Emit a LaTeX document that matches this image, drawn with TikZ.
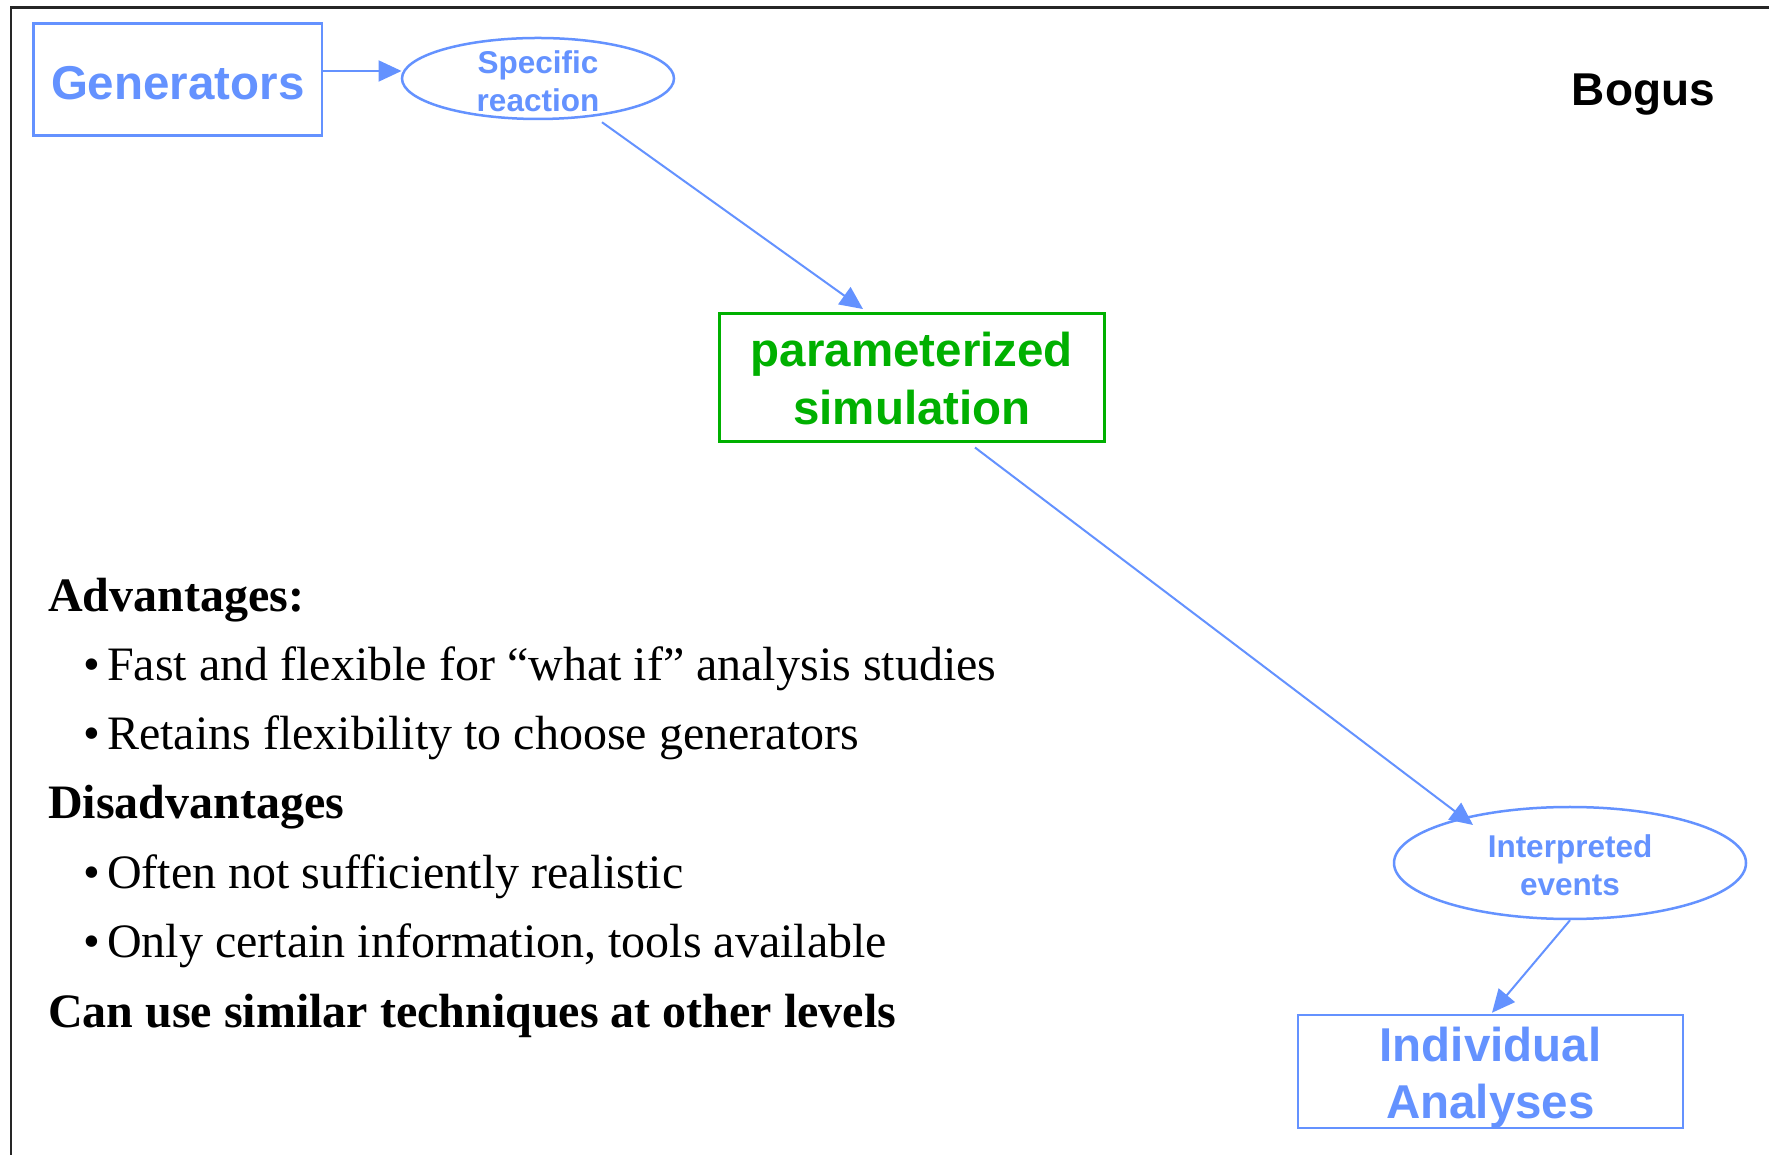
\documentclass[tikz,border=0pt]{standalone}
\usepackage{fontspec}
\setmainfont{Liberation Serif}
\setsansfont{Liberation Sans}
\usetikzlibrary{arrows.meta,shapes.geometric,calc}
\definecolor{flowblue}{RGB}{100,146,255}
\definecolor{simgreen}{RGB}{0,176,0}
\begin{document}
\begin{tikzpicture}[x=1pt,y=1pt,
  boxbig/.style={draw=flowblue, line width=2.5pt, inner sep=0pt},
  boxgreen/.style={draw=simgreen, line width=2.5pt, inner sep=0pt},
  bigtext/.style={text=flowblue, inner sep=0pt, align=center,
    font=\sffamily\bfseries\fontsize{47.5}{57.5}\selectfont},
  greentext/.style={text=simgreen, inner sep=0pt, align=center,
    font=\sffamily\bfseries\fontsize{47.5}{57.5}\selectfont},
  oval/.style={draw=flowblue, line width=2.5pt, ellipse, inner sep=0pt},
  ovaltext/.style={text=flowblue, inner sep=0pt, align=center,
    font=\sffamily\bfseries\fontsize{31.5}{37.5}\selectfont},
  conn/.style={draw=flowblue, line width=2pt, -{Triangle[length=23pt,width=21pt]}},
  headline/.style={anchor=base west, inner sep=0pt, font=\bfseries\fontsize{48}{57}\selectfont},
  itemline/.style={anchor=base west, inner sep=0pt, font=\fontsize{48}{57}\selectfont}]
\useasboundingbox (0,0) rectangle (1769,1154);
\fill[white] (0,0) rectangle (1769,1154);

% slide frame (only top and left edges fall inside the page)
\draw[line width=2.5pt, black!85] (11,-10) -- (11,1146.5) -- (1780,1146.5);

% flow nodes
\node[boxbig, minimum width=288.5pt, minimum height=112.4pt,
  label={[bigtext, yshift=-3.4pt]center:Generators}] (gen) at (177.75,1074.5) {};
\node[oval, minimum width=272pt, minimum height=81pt,
  label={[ovaltext, yshift=-2.8pt]center:Specific\\reaction}] (spec) at (538,1075.5) {};
\node[boxgreen, minimum width=385pt, minimum height=128pt,
  label={[greentext, yshift=-1.2pt]center:parameterized\\simulation}] (param) at (912,776.7) {};
\node[oval, minimum width=352pt, minimum height=112pt,
  label={[ovaltext, yshift=-2.3pt]center:Interpreted\\events}] (interp) at (1570,291) {};
\node[boxbig, minimum width=385pt, minimum height=113pt,
  label={[bigtext, yshift=-6pt]center:Individual\\Analyses}] (indiv) at (1490.5,82.5) {};
\node[anchor=base, inner sep=0pt, font=\sffamily\bfseries\fontsize{46}{55}\selectfont] (bogus) at (1643.4,1048) {Bogus};

% connectors
\draw[conn] ($(gen.east)+(0,8.5)$) -- ($(spec.west)+(0.8,7.5)$);
\draw[conn] ($(spec.south)+(64,-2)$) -- ($(param.north)+(-49,3)$);
\draw[conn] ($(param.south)+(63,-5)$) -- ($(interp.center)+(-97,38)$);
\draw[conn] (interp.south) -- ($(indiv.north)+(1.5,1)$);

% pros and cons
\node[headline] (adv) at (48,542) {Advantages:};
\node[itemline] (advA) at (83.5,473) {•\kern6.7pt Fast and flexible for “what if” analysis studies};
\node[itemline] (advB) at (83.5,404) {•\kern6.7pt Retains flexibility to choose generators};
\node[headline] (dis) at (48,335) {Disadvantages};
\node[itemline] (disA) at (83.5,265) {•\kern6.7pt Often not sufficiently realistic};
\node[itemline] (disB) at (83.5,196) {•\kern6.7pt Only certain information, tools available};
\node[headline] (other) at (48,127) {Can use similar techniques at other levels};
\end{tikzpicture}
\end{document}
